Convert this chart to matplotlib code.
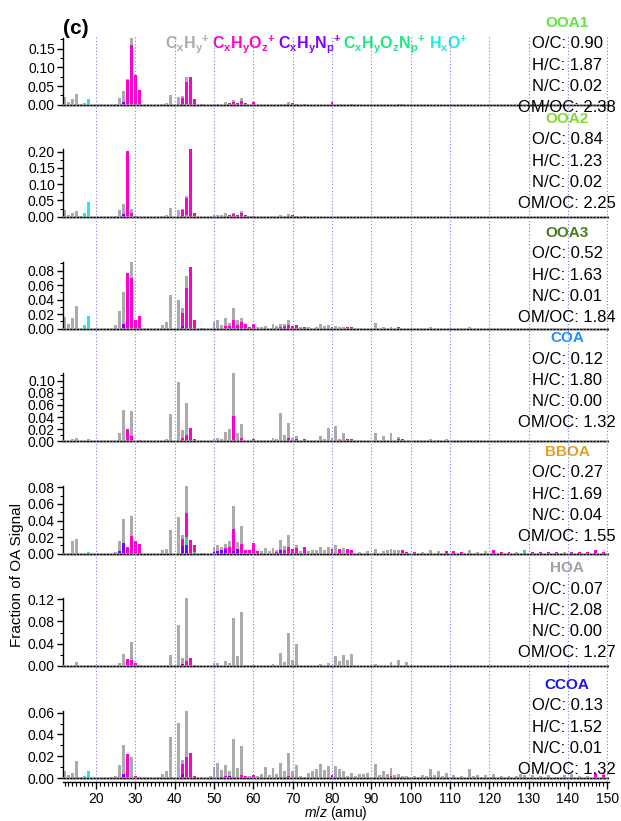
import numpy as np
import matplotlib
matplotlib.use("Agg")
import matplotlib.pyplot as plt
from matplotlib.lines import Line2D
from matplotlib.ticker import MultipleLocator, FixedLocator
from matplotlib.transforms import blended_transform_factory

plt.rcParams["font.family"] = ["Liberation Sans", "DejaVu Sans"]
plt.rcParams["mathtext.fontset"] = "custom"
plt.rcParams["mathtext.rm"] = "Liberation Sans"
plt.rcParams["mathtext.it"] = "Liberation Sans:italic"
plt.rcParams["mathtext.bf"] = "Liberation Sans:bold"

# ---- data -------------------------------------------------------------
MZ = np.arange(12, 151)

# ion families, tuple order used in the spectra below
FAMILIES = ["CxHy", "CxHyOz", "CxHyNp", "CxHyOzNp", "HxO"]
FAMILY_LABELS = [r"$\mathbf{C_xH_y}^{\mathbf{+}}$", r"$\mathbf{C_xH_yO_z}^{\mathbf{+}}$",
                 r"$\mathbf{C_xH_yN_p}^{\mathbf{+}}$", r"$\mathbf{C_xH_yO_zN_p}^{\mathbf{+}}$",
                 r"$\mathbf{H_xO}^{\mathbf{+}}$"]
FAMILY_COLORS = ["#ABABAB", "#FF00CC", "#7F00FF", "#1EE67F", "#22E6EE"]
STACK_ORDER = [2, 3, 1, 4, 0]   # bottom -> top

# spectra: {m/z: (CxHy, CxHyOz, CxHyNp, CxHyOzNp, HxO)}, missing entries = 0
OOA1 = {12: (0.020,), 13: (0.007,), 14: (0.014,), 15: (0.030,), 16: (0.001,),
        17: (0, 0, 0, 0, 0.005), 18: (0, 0, 0, 0, 0.015), 25: (0.002,), 26: (0.018,),
        27: (0.030, 0, 0.007), 28: (0.003, 0.065), 29: (0.020, 0.160), 30: (0, 0.080),
        31: (0, 0.040), 37: (0.003,), 38: (0.005,), 39: (0.025,), 41: (0.020,),
        42: (0.004, 0.016, 0.002), 43: (0.013, 0.060, 0, 0.002), 44: (0, 0.075),
        45: (0, 0.015), 47: (0, 0.001), 50: (0.003,), 51: (0.003,), 53: (0.008,),
        54: (0, 0.004), 55: (0.004, 0.008), 56: (0, 0.005), 57: (0.008, 0.010),
        58: (0, 0.005), 60: (0, 0.006), 67: (0.002,), 68: (0.002,), 69: (0.004, 0.003),
        70: (0, 0.004), 71: (0, 0.003), 73: (0, 0.002), 80: (0, 0.008), 82: (0.002,),
        83: (0.002,), 85: (0, 0.002), 97: (0, 0.002), 98: (0, 0.002)}

OOA2 = {12: (0.020,), 13: (0.004,), 14: (0.012,), 15: (0.016,), 16: (0.002,),
        17: (0, 0, 0, 0, 0.012), 18: (0, 0, 0, 0, 0.046), 25: (0.002,), 26: (0.020,),
        27: (0.032, 0, 0.008), 28: (0, 0.202), 29: (0.012, 0.012), 30: (0, 0.002),
        37: (0.002,), 38: (0.004,), 39: (0.028,), 41: (0.022,), 42: (0.003, 0.020),
        43: (0.005, 0.054, 0, 0.004), 44: (0, 0.208), 45: (0, 0.010, 0, 0.002),
        50: (0.005,), 51: (0.006,), 52: (0.004,), 53: (0.010,), 54: (0, 0.005),
        55: (0.004, 0.008), 56: (0, 0.004), 57: (0.008, 0.010), 58: (0, 0.004),
        59: (0.003,), 60: (0, 0.002), 65: (0.002,), 67: (0.004,), 68: (0.003,),
        69: (0.004, 0.003), 70: (0, 0.004), 71: (0, 0.003), 73: (0, 0.002)}

OOA3 = {12: (0.016,), 13: (0.006,), 14: (0.015,), 15: (0.031,),
        17: (0, 0, 0, 0, 0.005), 18: (0, 0, 0, 0, 0.018), 25: (0.005,), 26: (0.025,),
        27: (0.044, 0, 0.006), 28: (0, 0.077), 29: (0.022, 0.070), 30: (0, 0.012),
        31: (0, 0.018), 37: (0.005,), 38: (0.009,), 39: (0.046,), 41: (0.039,),
        42: (0.007, 0.017, 0.004), 43: (0.016, 0.056), 44: (0, 0.085), 45: (0, 0.012),
        47: (0, 0.001), 50: (0.009,), 51: (0.012,), 52: (0.005,), 53: (0.011, 0.004),
        54: (0.004, 0.004), 55: (0.016, 0.012), 56: (0.007, 0.005), 57: (0.006, 0.009),
        58: (0, 0.006), 59: (0, 0.003), 60: (0, 0.007), 61: (0.002,), 62: (0.003,),
        63: (0.004,), 65: (0.007,), 66: (0.004,), 67: (0.004, 0.003), 68: (0.002, 0.004),
        69: (0.007, 0.005), 70: (0, 0.004), 71: (0, 0.005), 72: (0.002,), 73: (0, 0.003),
        74: (0.002,), 76: (0.002,), 77: (0.007,), 78: (0.004,), 79: (0.005,),
        80: (0, 0.003), 81: (0.004,), 82: (0.003,), 83: (0.002,), 84: (0, 0.002),
        85: (0, 0.002), 91: (0.008,), 93: (0.002,), 95: (0.003,), 97: (0, 0.002),
        105: (0.003,), 115: (0.003,)}

COA = {14: (0.003,), 15: (0.006,), 18: (0, 0, 0, 0, 0.004), 26: (0.013,), 27: (0.052,),
       28: (0, 0.020), 29: (0.041, 0.009), 31: (0, 0.002), 37: (0.001,), 38: (0.003,),
       39: (0.045,), 41: (0.098,), 42: (0.014, 0.005), 43: (0.053, 0.010),
       44: (0, 0.022), 45: (0, 0.003), 50: (0.003,), 51: (0.006,), 52: (0.003,),
       53: (0.015,), 54: (0.021,), 55: (0.070, 0.042), 56: (0.013,), 57: (0.024, 0.005),
       58: (0, 0.001), 60: (0, 0.003), 65: (0.006,), 66: (0.003,), 67: (0.047,),
       68: (0.011,), 69: (0.025, 0.005), 70: (0.004, 0.002), 71: (0.006, 0.003),
       73: (0, 0.003), 77: (0.009,), 78: (0.003,), 79: (0.022,), 80: (0.006,),
       81: (0.025,), 82: (0.002, 0.002), 83: (0.014,), 84: (0, 0.003), 85: (0, 0.003),
       91: (0.014,), 93: (0.008,), 95: (0.013,), 97: (0.004, 0.003), 98: (0, 0.004),
       105: (0.003,), 107: (0.002,), 109: (0.003,), 111: (0, 0.001), 115: (0.002,),
       117: (0.002,)}

BBOA = {13: (0.001,), 14: (0.015,), 15: (0.018,), 18: (0, 0, 0, 0, 0.002), 25: (0.002,),
        26: (0.012, 0, 0.003), 27: (0.029, 0, 0.013), 28: (0, 0.008), 29: (0.024, 0.021),
        30: (0, 0.015), 31: (0, 0.012), 37: (0.004,), 38: (0.006,), 39: (0.028,),
        41: (0.044,), 42: (0.005, 0.009, 0.009), 43: (0.032, 0.029, 0.010, 0.010),
        44: (0, 0.016), 45: (0, 0.008, 0, 0.002), 47: (0, 0.001), 50: (0.006, 0, 0.002),
        51: (0.008, 0, 0.003), 52: (0.004, 0, 0.004), 53: (0.005, 0.003, 0.004),
        54: (0.007, 0.008), 55: (0.028, 0.027, 0.003), 56: (0.008, 0, 0.006),
        57: (0.021, 0.012), 58: (0, 0.004), 59: (0, 0.003, 0, 0.001), 60: (0, 0.013),
        61: (0, 0.003), 62: (0.003,), 63: (0.007,), 64: (0.003,), 65: (0.007,),
        66: (0.002, 0.002), 67: (0.011, 0, 0.005), 68: (0.004, 0.005), 69: (0.014, 0.008),
        70: (0, 0.006), 71: (0.004, 0.007), 72: (0.003,), 73: (0, 0.008), 74: (0.003,),
        75: (0.004,), 76: (0.004,), 77: (0.008,), 78: (0.004,), 79: (0.008,),
        80: (0, 0.006), 81: (0.011,), 82: (0, 0.006), 83: (0.007,), 84: (0, 0.006),
        85: (0, 0.005), 87: (0.002,), 89: (0.003,), 91: (0.006,), 93: (0.003,),
        94: (0.005,), 95: (0.006,), 96: (0.004,), 97: (0.005,), 98: (0, 0.004),
        99: (0, 0.002), 101: (0, 0.002), 103: (0.002,), 105: (0.004,), 107: (0.003,),
        109: (0, 0.003), 111: (0, 0.003), 113: (0, 0.002), 115: (0.004,), 117: (0.002,),
        119: (0.003,), 121: (0, 0.004), 123: (0, 0.002), 125: (0, 0.002), 127: (0.002,),
        129: (0, 0, 0, 0.004), 131: (0, 0.002), 133: (0, 0.002), 135: (0, 0.002),
        137: (0, 0.002), 139: (0.002,), 141: (0, 0.002), 143: (0, 0.002), 145: (0, 0.002),
        147: (0, 0.004), 149: (0, 0.002)}

HOA = {15: (0.007,), 18: (0, 0, 0, 0, 0.002), 26: (0.004,), 27: (0.021,), 28: (0, 0.013),
       29: (0.031, 0.011), 30: (0, 0.004), 31: (0, 0.002), 38: (0.002,), 39: (0.020,),
       41: (0.073,), 42: (0.011, 0, 0.003), 43: (0.114, 0.008), 44: (0, 0.014),
       45: (0, 0.002), 50: (0.004,), 51: (0.004,), 53: (0.008,), 54: (0.005,),
       55: (0.086,), 56: (0.017,), 57: (0.097,), 58: (0.002,), 60: (0, 0.001),
       65: (0.003,), 67: (0.023,), 68: (0.006,), 69: (0.060,), 70: (0.010,),
       71: (0.040,), 77: (0.003,), 79: (0.004,), 81: (0.018,), 82: (0.008,),
       83: (0.020,), 84: (0.010,), 85: (0.022,), 91: (0.003,), 95: (0.006,),
       97: (0.010,), 99: (0.006,)}

CCOA = {12: (0.0065,), 13: (0.003,), 14: (0.005,), 15: (0.016,), 16: (0.001,),
        17: (0, 0, 0, 0, 0.002), 18: (0, 0, 0, 0, 0.006), 24: (0.001,), 25: (0.002,),
        26: (0.012,), 27: (0.026, 0, 0.004), 28: (0, 0.022), 29: (0.019,), 30: (0, 0.002),
        31: (0, 0.001), 36: (0.001,), 37: (0.004,), 38: (0.006,), 39: (0.038,),
        41: (0.051,), 42: (0.004, 0.009, 0.004), 43: (0.043, 0.019), 44: (0, 0.023),
        45: (0, 0.002), 49: (0.002,), 50: (0.010,), 51: (0.014,), 52: (0.006, 0, 0.001),
        53: (0.010, 0.002), 54: (0.004, 0, 0.002), 55: (0.035, 0.001), 56: (0.009,),
        57: (0.026, 0.003), 58: (0, 0.002), 59: (0.002,), 60: (0, 0.003), 61: (0.002,),
        62: (0.004,), 63: (0.010,), 64: (0.003,), 65: (0.009,), 66: (0.004,),
        67: (0.013, 0.001), 68: (0.005, 0.001), 69: (0.021, 0.002), 70: (0.005, 0.001),
        71: (0.011, 0.001), 72: (0.002,), 73: (0, 0.001), 74: (0.005,), 75: (0.006,),
        76: (0.008,), 77: (0.013,), 78: (0.007,), 79: (0.010, 0.001), 80: (0, 0.003),
        81: (0.010, 0.001), 82: (0.007, 0.001), 83: (0.005, 0.001), 84: (0.001, 0.001),
        85: (0.004, 0.001), 86: (0.002,), 87: (0.004,), 88: (0.004,), 89: (0.005,),
        90: (0.001,), 91: (0.013,), 92: (0.003,), 93: (0.006,), 94: (0.004,),
        95: (0.007, 0.002), 96: (0.002, 0.001), 97: (0.003, 0.001), 98: (0.001, 0.001),
        99: (0.002,), 100: (0.001,), 101: (0.002,), 102: (0.001,), 103: (0.003,),
        104: (0.002,), 105: (0.007, 0.001), 106: (0.003,), 107: (0.005, 0.001),
        108: (0.002,), 109: (0.004, 0.001), 110: (0.001,), 111: (0.002, 0.001),
        113: (0.002,), 115: (0.008,), 116: (0.002,), 117: (0.003,), 118: (0.001,),
        119: (0.003,), 120: (0.001,), 121: (0.003, 0.001), 123: (0.002,),
        125: (0.001, 0.001), 127: (0.002,), 128: (0.004,), 129: (0.002, 0.001),
        131: (0.003,), 133: (0.002,), 135: (0.002, 0.001), 137: (0.001,), 139: (0.003,),
        141: (0.004,), 143: (0.002,), 145: (0.002,), 147: (0.001, 0.004),
        149: (0.002, 0.003)}

FACTORS = ["OOA1", "OOA2", "OOA3", "COA", "BBOA", "HOA", "CCOA"]
SPECTRA = [OOA1, OOA2, OOA3, COA, BBOA, HOA, CCOA]
FACTOR_COLORS = ["#5EE63C", "#7FDA2A", "#4A7A1C", "#1E8FFF", "#E0A020", "#A0A0A0", "#1414F0"]
O_C = [0.90, 0.84, 0.52, 0.12, 0.27, 0.07, 0.13]
H_C = [1.87, 1.23, 1.63, 1.80, 1.69, 2.08, 1.52]
N_C = [0.02, 0.02, 0.01, 0.00, 0.04, 0.00, 0.01]
OM_OC = [2.38, 2.25, 1.84, 1.32, 1.55, 1.27, 1.32]
YTICK_MAX = [0.15, 0.20, 0.08, 0.10, 0.08, 0.12, 0.06]
YTICK_STEP = [0.05, 0.05, 0.02, 0.02, 0.02, 0.04, 0.02]

# ---- layout (pixels) --------------------------------------------------
W, H = 621, 821
BASELINE_PX = [104.7, 216.7, 328.7, 441.3, 553.7, 665.7, 778.0]
PX_PER_UNIT = [373.3, 325.0, 725.0, 606.0, 830.0, 553.0, 1088.0]
PANEL_PX = 112.2
LEFT_PX, RIGHT_PX = 63.3, 609.0
XLIM = (11.69, 150.43)
LABEL_Y_PX = [23, 119, 232.7, 338, 451.7, 568, 685]
TEXT_X_PX = 567
LEGEND_X_PX = [165, 212, 278.3, 343.3, 429.3]


def to_array(spec):
    arr = np.zeros((len(FAMILIES), len(MZ)))
    for mz, vals in spec.items():
        for k, v in enumerate(vals):
            arr[k, mz - MZ[0]] = v
    return arr


fig = plt.figure(figsize=(W / 100, H / 100), dpi=100)
axes = []
for i, spec in enumerate(SPECTRA):
    data = to_array(spec)
    bot_px = BASELINE_PX[i] + 4
    top_px = max(bot_px - PANEL_PX, 0)
    ax = fig.add_axes([LEFT_PX / W, 1 - bot_px / H, (RIGHT_PX - LEFT_PX) / W,
                       (bot_px - top_px) / H])
    ax.patch.set_alpha(0)
    s = PX_PER_UNIT[i]
    ax.set_ylim(-4 / s, (bot_px - top_px - 4) / s)
    ax.set_xlim(*XLIM)

    bottom = np.zeros(len(MZ))
    for k in STACK_ORDER:
        ax.bar(MZ, data[k], width=0.75, bottom=bottom, color=FAMILY_COLORS[k],
               linewidth=0, zorder=2)
        bottom = bottom + data[k]

    ax.axhline(0, color="#9A9A9A", lw=1.8, zorder=3)
    ax.axhline(0, color="black", lw=0.8, ls=(0, (2, 1)), zorder=4)

    for side in ["top", "right", "bottom"]:
        ax.spines[side].set_visible(False)
    ax.spines["left"].set_bounds(0, bottom.max())
    ax.spines["left"].set_linewidth(1.0)
    step = YTICK_STEP[i]
    ax.set_yticks(np.arange(0, YTICK_MAX[i] + step / 2, step))
    ax.yaxis.set_minor_locator(FixedLocator(np.arange(step / 2, bottom.max(), step)))
    ax.yaxis.set_major_formatter(matplotlib.ticker.FormatStrFormatter("%.2f"))
    ax.tick_params(axis="y", which="major", length=4, width=1, labelsize=10, pad=2)
    ax.tick_params(axis="y", which="minor", length=2, width=0.8)
    ax.tick_params(axis="x", which="both", bottom=False, labelbottom=False)
    axes.append(ax)

# bottom m/z axis
axb = axes[-1]
axb.spines["bottom"].set_visible(True)
axb.spines["bottom"].set_linewidth(1.0)
axb.xaxis.set_major_locator(MultipleLocator(10))
axb.xaxis.set_minor_locator(MultipleLocator(1))
axb.tick_params(axis="x", which="major", bottom=True, labelbottom=True, length=5,
                width=1, labelsize=10, pad=2)
axb.tick_params(axis="x", which="minor", bottom=True, length=3, width=0.8)
axb.set_xlabel(r"$m/z$ (amu)", fontsize=10, labelpad=-1)

# vertical dotted guides through all panels
trans = blended_transform_factory(axb.transData, fig.transFigure)
for x in range(20, 151, 10):
    fig.add_artist(Line2D([x, x], [1 - 37 / H, 1 - 782 / H], transform=trans,
                          color="#7777FF", lw=0.8, ls=(0, (1, 2)), zorder=10))

# factor labels and elemental ratios
for i, name in enumerate(FACTORS):
    y0 = LABEL_Y_PX[i]
    fig.text(TEXT_X_PX / W, 1 - y0 / H, name, color=FACTOR_COLORS[i], fontsize=11,
             fontweight="bold", ha="center", va="center")
    lines = [f"O/C: {O_C[i]:.2f}", f"H/C: {H_C[i]:.2f}", f"N/C: {N_C[i]:.2f}",
             f"OM/OC: {OM_OC[i]:.2f}"]
    for j, t in enumerate(lines):
        fig.text(TEXT_X_PX / W, 1 - (y0 + 21 + 21.3 * j) / H, t, fontsize=12,
                 ha="center", va="center")

# family legend
for lab, col, xpx in zip(FAMILY_LABELS, FAMILY_COLORS, LEGEND_X_PX):
    fig.text(xpx / W, 1 - 48 / H, lab, color=col, fontsize=11.5, ha="left", va="baseline")

fig.text(63 / W, 1 - 28 / H, "(c)", fontsize=15, fontweight="bold", ha="left", va="center")
fig.text(17 / W, 1 - 575 / H, "Fraction of OA Signal", fontsize=11, rotation=90,
         ha="center", va="center")

fig.savefig("out.png", dpi=100)
